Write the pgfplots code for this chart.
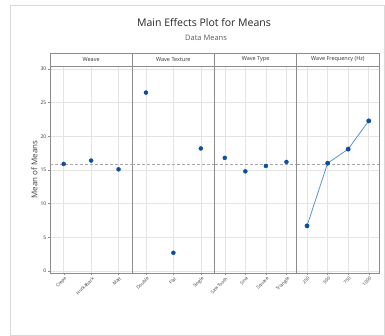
\documentclass[border=0pt]{standalone}
\usepackage{pgfplots}
\pgfplotsset{compat=1.18}
\usepackage{fontspec}
\setmainfont{Open Sans}
\definecolor{framec}{HTML}{8C8C8C}
\definecolor{gridc}{HTML}{E4E4E4}
\definecolor{dotc}{HTML}{0B4EA2}
\definecolor{linec}{HTML}{5B93D3}
\definecolor{txt}{HTML}{333333}
\definecolor{meanc}{HTML}{A8A8A8}
\pgfplotsset{
 panel/.style={
  scale only axis, width=82.25pt, height=207pt,
  ymin=-0.3, ymax=30.45,
  xmin=0.5, xmax=#1+0.5,
  xtick={1,...,#1},
  ytick={0,5,...,30},
  grid=major, major grid style={gridc, line width=0.5pt},
  axis line style={framec, line width=0.8pt},
  tick style={framec, line width=0.4pt},
  tick align=outside, major tick length=2pt,
  xtick pos=bottom, ytick pos=left,
  x tick label style={rotate=45, anchor=north east, font=\fontsize{4.5}{5}\selectfont, text=txt, inner sep=0.5pt, yshift=-1pt},
  y tick label style={font=\fontsize{5}{6}\selectfont, text=txt, inner sep=1.5pt},
  /pgf/number format/assume math mode=true,
  clip=false,
  anchor=south west,
 },
 pts/.style={only marks, mark=*, mark size=2pt, color=dotc},
}
\newcommand{\header}[1]{%
  \draw[framec, line width=0.8pt, fill=white] (rel axis cs:0,1) rectangle ([yshift=13pt]rel axis cs:1,1);
  \node[font=\fontsize{5.5}{6}\selectfont, text=txt] at ([yshift=6.5pt]rel axis cs:0.5,1) {#1};}
\begin{document}
\begin{tikzpicture}
\useasboundingbox (0,0) rectangle (385pt,336pt);
\draw[black!15, line width=0.5pt] (10pt,1pt) rectangle (384.5pt,331pt);
\node[font=\fontsize{10.5}{12}\selectfont, text=black!85] at (204pt,313pt) {Main Effects Plot for Means};
\node[font=\fontsize{7.5}{9}\selectfont, text=black!65] at (206pt,298pt) {Data Means};

\begin{axis}[panel=3, at={(50pt,63pt)},
  xticklabels={Crepe,Huckaback,Matt},
  ylabel={Mean of Means},
  ylabel style={font=\fontsize{8}{9}\selectfont, text=black!75, yshift=-2pt}]
\addplot[meanc, dashed, line width=0.7pt, dash pattern=on 3pt off 2pt] coordinates {(0.5,15.8) (3.5,15.8)};
\addplot[pts] coordinates {(1,15.9) (2,16.4) (3,15.1)};
\header{Weave}
\end{axis}

\begin{axis}[panel=3, at={(132.25pt,63pt)}, yticklabels={}, ytick style={draw=none},
  xticklabels={Double,Flat,Single}]
\addplot[meanc, dashed, line width=0.7pt, dash pattern=on 3pt off 2pt] coordinates {(0.5,15.8) (3.5,15.8)};
\addplot[pts] coordinates {(1,26.5) (2,2.7) (3,18.2)};
\header{Wave Texture}
\end{axis}

\begin{axis}[panel=4, at={(214.5pt,63pt)}, yticklabels={}, ytick style={draw=none},
  xticklabels={Saw Tooth,Sine,Square,Triangle}]
\addplot[meanc, dashed, line width=0.7pt, dash pattern=on 3pt off 2pt] coordinates {(0.5,15.8) (4.5,15.8)};
\addplot[pts] coordinates {(1,16.8) (2,14.8) (3,15.6) (4,16.2)};
\header{Wave Type}
\end{axis}

\begin{axis}[panel=4, at={(296.75pt,63pt)}, yticklabels={}, ytick style={draw=none},
  xticklabels={250,500,750,1000}]
\addplot[meanc, dashed, line width=0.7pt, dash pattern=on 3pt off 2pt] coordinates {(0.5,15.8) (4.5,15.8)};
\addplot[linec, line width=0.8pt, mark=*, mark size=2pt, mark options={fill=dotc, draw=dotc}] coordinates {(1,6.7) (2,16.0) (3,18.1) (4,22.3)};
\header{Wave Frequency (Hz)}
\end{axis}
\end{tikzpicture}
\end{document}
